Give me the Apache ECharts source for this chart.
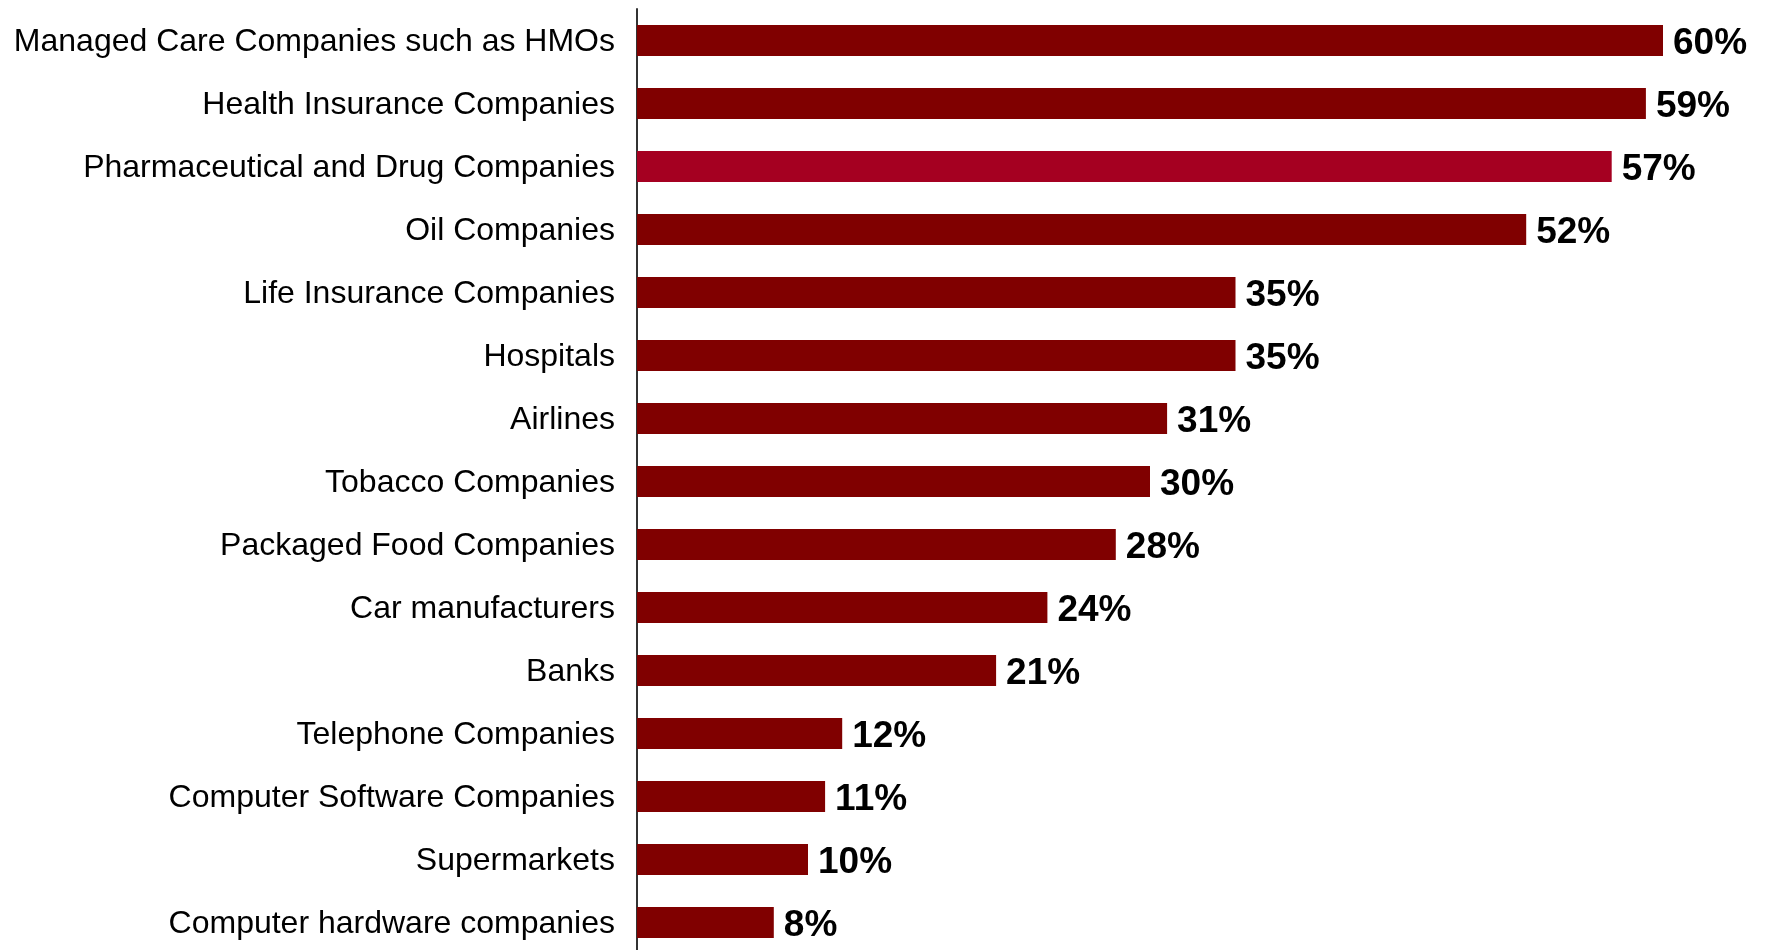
<!DOCTYPE html>
<html>
<head>
<meta charset="utf-8">
<title>Companies</title>
<script src="https://cdn.jsdelivr.net/npm/echarts@6/dist/echarts.min.js"></script>
<style>
  html, body { margin: 0; padding: 0; background: #ffffff; overflow: hidden; }
  #chart { width: 1766px; height: 960px; }
</style>
</head>
<body>
<div id="chart"></div>
<script>
// Categories listed top to bottom
const categories = [
  'Managed Care Companies such as HMOs',
  'Health Insurance Companies',
  'Pharmaceutical and Drug Companies',
  'Oil Companies',
  'Life Insurance Companies',
  'Hospitals',
  'Airlines',
  'Tobacco Companies',
  'Packaged Food Companies',
  'Car manufacturers',
  'Banks',
  'Telephone Companies',
  'Computer Software Companies',
  'Supermarkets',
  'Computer hardware companies'
];

// Percent values, same order as categories
const values = [60, 59, 57, 52, 35, 35, 31, 30, 28, 24, 21, 12, 11, 10, 8];

// Category drawn in the accent colour
const highlighted = 'Pharmaceutical and Drug Companies';

const baseColor = '#800000';
const accentColor = '#A50021';

const chart = echarts.init(document.getElementById('chart'));

chart.setOption({
  animation: false,
  backgroundColor: '#ffffff',
  grid: {
    left: 637,
    top: 9,
    width: 1026,
    height: 945,
    containLabel: false
  },
  xAxis: {
    type: 'value',
    min: 0,
    max: 60,
    show: false
  },
  yAxis: {
    type: 'category',
    inverse: true,
    data: categories,
    axisLine: { show: true, lineStyle: { color: '#333333', width: 2 } },
    axisTick: { show: false },
    axisLabel: {
      margin: 22,
      verticalAlign: 'top',
      lineHeight: 4,
      color: '#000000',
      fontFamily: 'Liberation Sans, Arial, sans-serif',
      fontSize: 32
    },
    splitLine: { show: false }
  },
  series: [{
    type: 'bar',
    barWidth: 31,
    data: categories.map((c, i) => ({
      value: values[i],
      itemStyle: { color: c === highlighted ? accentColor : baseColor }
    })),
    label: {
      show: true,
      position: 'right',
      distance: 10,
      offset: [0, 3],
      formatter: p => p.value + '%',
      color: '#000000',
      fontFamily: 'Liberation Sans, Arial, sans-serif',
      fontWeight: 'bold',
      fontSize: 37
    }
  }]
});
</script>
</body>
</html>
